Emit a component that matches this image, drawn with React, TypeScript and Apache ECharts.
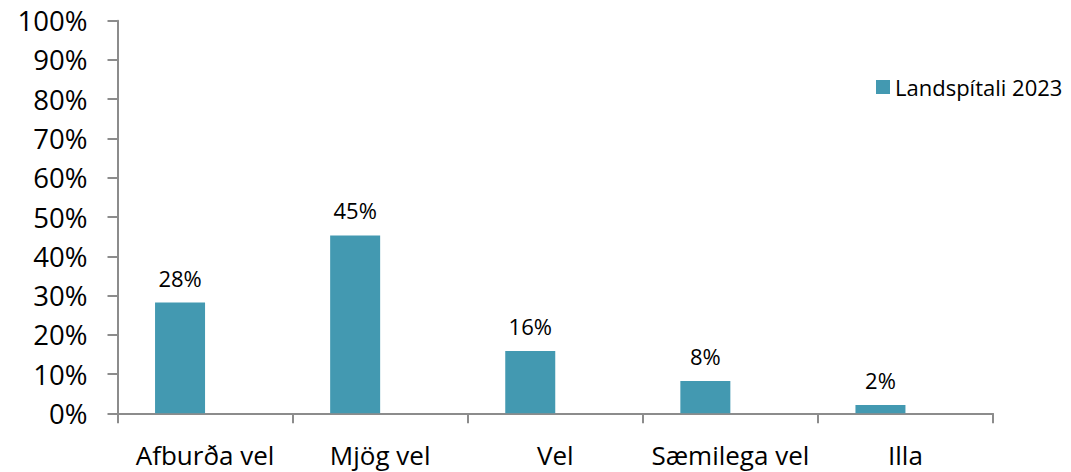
import React, { useEffect, useRef } from "react";
import * as echarts from "echarts";

const categories = ["Afburða vel", "Mjög vel", "Vel", "Sæmilega vel", "Illa"];
const seriesName = "Landspítali 2023";
const values2023 = [28.2, 45.3, 15.9, 8.2, 2.1];
const emptySeries = [null, null, null, null, null];
const yTicks = [0, 10, 20, 30, 40, 50, 60, 70, 80, 90, 100];

export default function App() {
  const ref = useRef<HTMLDivElement>(null);
  useEffect(() => {
    document.body.style.margin = "0";
    const chart = echarts.init(ref.current!, null, { renderer: "svg" });
    const axisColor = "#8c8c8c";
    chart.setOption({
      animation: false,
      backgroundColor: "#ffffff",
      grid: { left: 117.5, right: 78, top: 20.7, bottom: 58.7 },
      legend: {
        data: [seriesName],
        left: 871,
        top: 71,
        icon: "rect",
        itemWidth: 14,
        itemHeight: 14,
        itemGap: 8,
        textStyle: { fontFamily: "Open Sans", fontSize: 22, color: "#000" },
      },
      xAxis: {
        type: "category",
        data: categories,
        boundaryGap: true,
        axisLine: { lineStyle: { color: axisColor, width: 2 } },
        axisTick: { show: true, length: 10, lineStyle: { color: axisColor, width: 2 } },
        axisLabel: {
          interval: 0,
          margin: 29,
          fontFamily: "Open Sans",
          fontSize: 26,
          color: "#000",
        },
      },
      yAxis: {
        type: "value",
        min: 0,
        max: 100,
        interval: 10,
        splitLine: { show: false },
        axisLine: { show: true, lineStyle: { color: axisColor, width: 2 } },
        axisTick: { show: true, length: 10, lineStyle: { color: axisColor, width: 2 } },
        axisLabel: {
          margin: 30,
          fontFamily: "Open Sans",
          fontSize: 27.5,
          color: "#000",
          formatter: (v: number) => (yTicks.includes(v) ? v + "%" : ""),
        },
      },
      series: [
        {
          name: seriesName,
          type: "bar",
          data: values2023,
          barWidth: 50,
          barGap: "0%",
          itemStyle: { color: "#4399b1" },
          label: {
            show: true,
            position: "top",
            distance: 14,
            fontFamily: "Open Sans",
            fontSize: 22,
            color: "#000",
            formatter: (p: any) => Math.round(p.value) + "%",
          },
        },
        {
          name: "empty",
          type: "bar",
          data: emptySeries,
          barWidth: 50,
          barGap: "0%",
          itemStyle: { color: "#cccccc" },
        },
      ],
    });
    return () => chart.dispose();
  }, []);
  return (
    <div
      ref={ref}
      style={{ position: "absolute", left: 0, top: 0, width: 1071, height: 472 }}
    />
  );
}
